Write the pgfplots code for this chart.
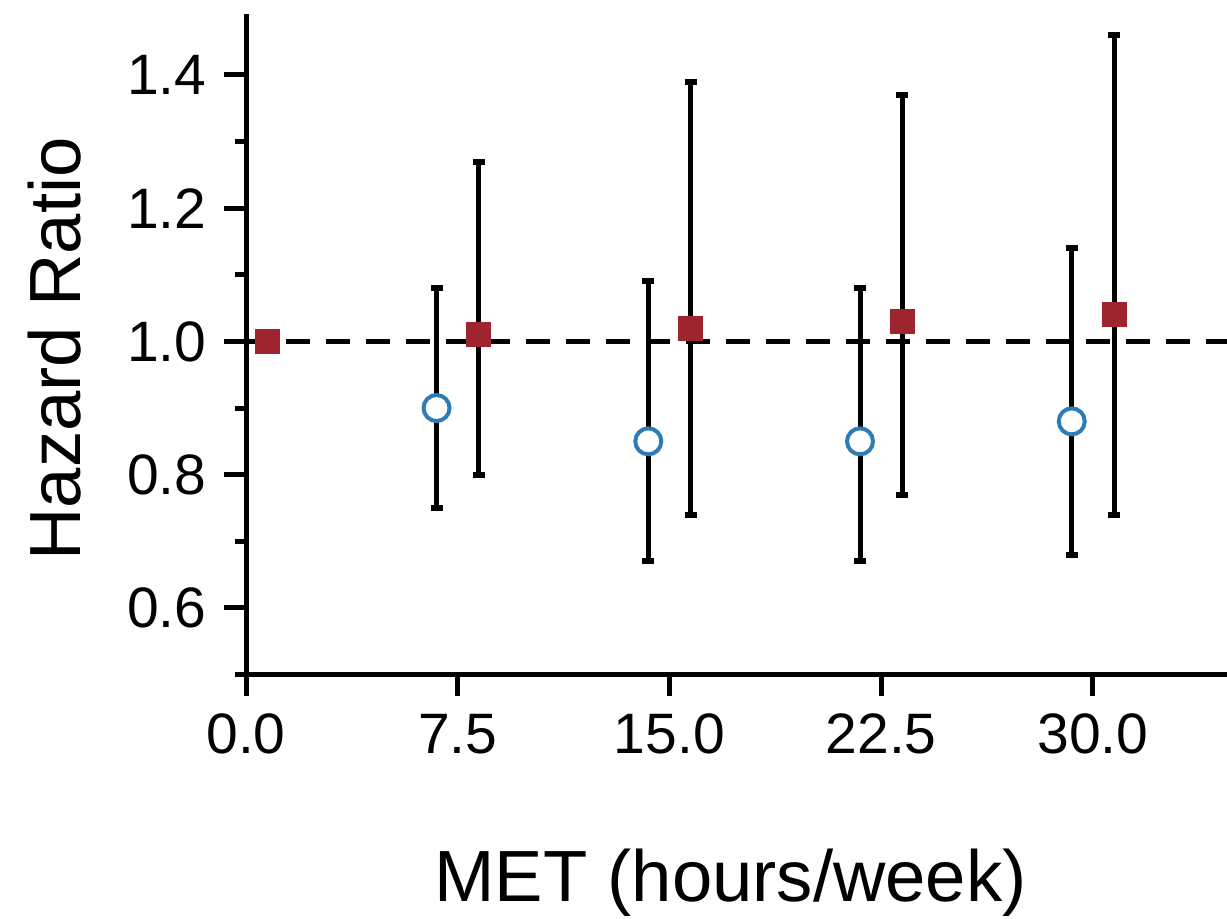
\documentclass[border=0pt]{standalone}
\usepackage{fontspec}
\setmainfont{Liberation Sans}
\usepackage{pgfplots}
\pgfplotsset{compat=1.18}
\definecolor{hrred}{RGB}{158,36,48}
\definecolor{hrblue}{RGB}{46,124,182}
\pgfplotstableread{
x y ep em
8.25 1.01 0.26 0.21
15.75 1.02 0.37 0.28
23.25 1.03 0.34 0.26
30.75 1.04 0.42 0.30
}\redtab
\pgfplotstableread{
x y ep em
6.75 0.90 0.18 0.15
14.25 0.85 0.24 0.18
21.75 0.85 0.23 0.18
29.25 0.88 0.26 0.20
}\bluetab
\begin{document}
\begin{tikzpicture}
\path[use as bounding box] (0,0) rectangle (245.4pt,183.8pt);
\begin{axis}[
  at={(49.2pt,48.9pt)}, anchor=south west,
  scale only axis, width=196.2pt, height=132.1pt,
  xmin=0, xmax=34.75, ymin=0.5, ymax=1.4916,
  axis lines*=left, axis line style={line width=1pt, -},
  xtick={0,7.5,15,22.5,30}, xticklabels={0.0,7.5,15.0,22.5,30.0},
  ytick={0.6,0.8,1.0,1.2,1.4}, yticklabels={0.6,0.8,1.0,1.2,1.4},
  minor ytick={0.5,0.7,0.9,1.1,1.3},
  tick align=outside, major tick length=4.4pt, minor tick length=2.2pt,
  every tick/.style={black, line width=1pt},
  tick label style={font=\fontsize{11.4}{13}\selectfont},
  xlabel={MET (hours/week)}, ylabel={Hazard Ratio},
  label style={font=\fontsize{14.5}{17}\selectfont},
  xlabel style={at={(axis description cs:0.494,-0.3444)}, anchor=base},
  ylabel style={at={(axis description cs:-0.1692,0.493)}, anchor=base},
  clip=false,
]
\addplot[black, line width=1pt, dash pattern=on 4.8pt off 3.2pt] coordinates {(0,1) (34.75,1)};
\addplot[only marks, mark=square*, mark size=2.4pt, mark options={draw=hrred, fill=hrred, line width=0.2pt}] coordinates {(0.75,1.0)};
\addplot[black, only marks, mark=square*, mark size=2.4pt, mark options={draw=hrred, fill=hrred, line width=0.2pt},
  error bars/.cd, y dir=both, y explicit,
  error bar style={black, line width=1pt},
  error mark=|,
  error mark options={black, solid, line width=1.2pt, mark size=1.2pt}]
  table[x=x, y=y, y error plus=ep, y error minus=em] {\redtab};
\addplot[black, only marks, mark=*, mark size=2.6pt, mark options={draw=hrblue, fill=white, line width=0.8pt},
  error bars/.cd, y dir=both, y explicit,
  error bar style={black, line width=1pt},
  error mark=|,
  error mark options={black, solid, line width=1.2pt, mark size=1.2pt}]
  table[x=x, y=y, y error plus=ep, y error minus=em] {\bluetab};
\end{axis}
\end{tikzpicture}
\end{document}
